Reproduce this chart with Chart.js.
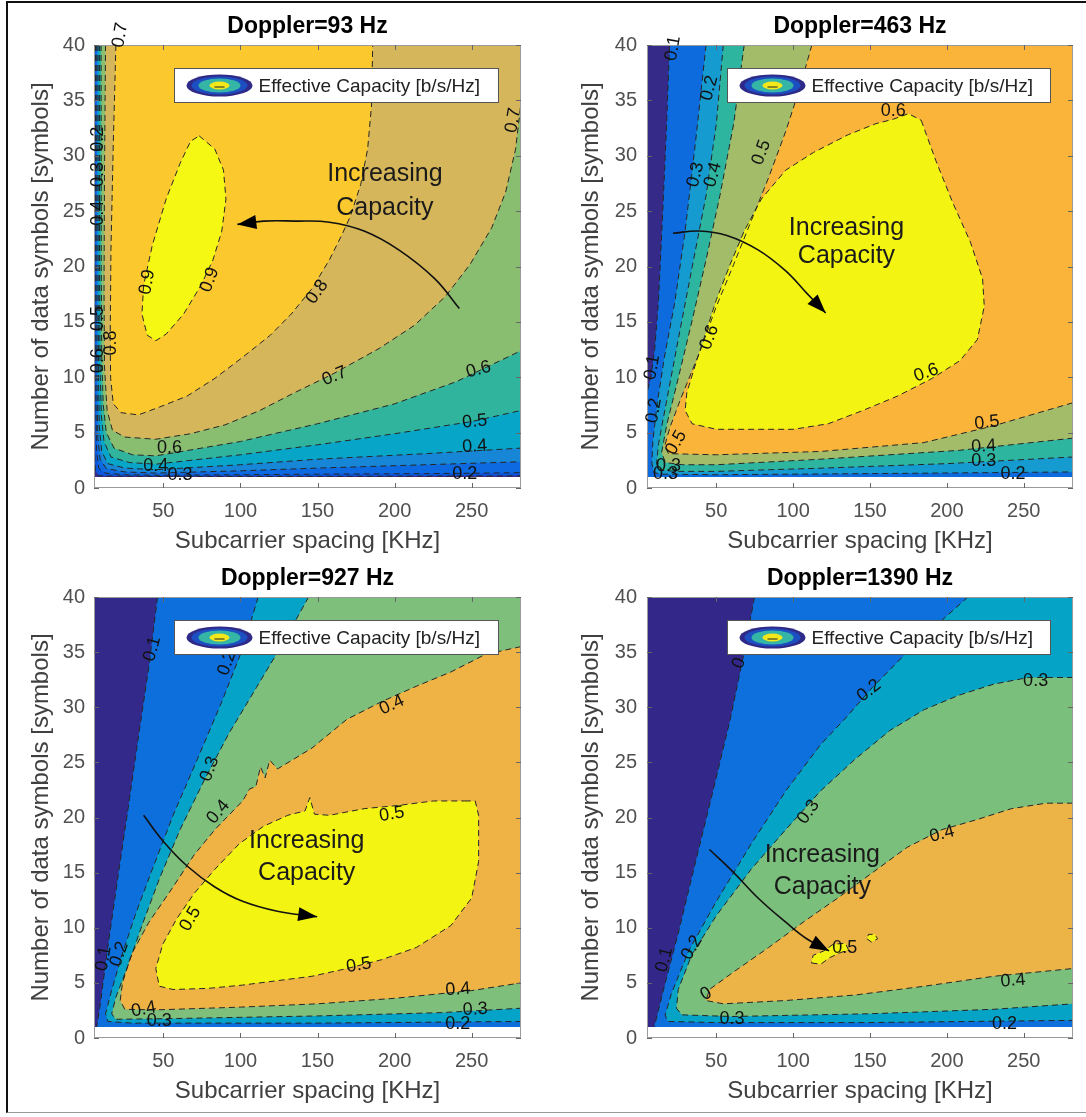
<!DOCTYPE html>
<html><head><meta charset="utf-8">
<script src="https://cdn.jsdelivr.net/npm/chart.js@4.4.1/dist/chart.umd.min.js"></script>
<style>
html,body{margin:0;padding:0;background:#fff;}
body{width:1086px;height:1117px;position:relative;overflow:hidden;}
.frame{position:absolute;left:6px;top:1px;width:1080px;height:1112px;border-left:2px solid #111;border-top:2px solid #111;border-bottom:1px solid #999;box-sizing:border-box;}
.panel{position:absolute;width:543px;height:560px;}
.panel canvas{display:block;}
</style></head><body>
<div class="frame"></div>
<div class="panel" style="left:0px;top:0px"><canvas id="c0" width="543" height="560" style="width:543px;height:560px"></canvas></div>
<div class="panel" style="left:543px;top:0px"><canvas id="c1" width="543" height="560" style="width:543px;height:560px"></canvas></div>
<div class="panel" style="left:0px;top:550px"><canvas id="c2" width="543" height="560" style="width:543px;height:560px"></canvas></div>
<div class="panel" style="left:543px;top:550px"><canvas id="c3" width="543" height="560" style="width:543px;height:560px"></canvas></div>
<script>
// ---------------- axes ----------------
const X_TICKS = [50, 100, 150, 200, 250];
const Y_TICKS = [0, 5, 10, 15, 20, 25, 30, 35, 40];
const X_MIN = 5, X_MAX = 282, Y_MIN = 0, Y_MAX = 40;
const PLOT_RECT = [[5,1],[282,1],[282,40],[5,40],[5,1]];
const CLOSE_TR = [[282,40]];
const CLOSE_BOTTOM_RIGHT = [[5,1],[282,1],[282,40]];
const CLOSE_RIGHT = [[282,1],[282,40]];
const LEGEND_BOX = [57, 37.95, 267, 34.85];
const LEGEND_TEXT = 'Effective Capacity [b/s/Hz]';
const X_TITLE = 'Subcarrier spacing [KHz]';
const Y_TITLE = 'Number of data symbols [symbols]';

// ---------------- Doppler = 93 Hz ----------------
const TL_COLORS = ['#3d2b8e','#0b56de','#0e6ae0','#1786d6','#07a5c8','#30b49d','#89bd70','#d6b65a','#fbc92e','#f5f812'];
const TL_L01 = [[5.2,40],[5.2,12],[5.3,4],[5.8,1.6],[8,1.1],[40,1.05],[150,1.05],[282,1.1]];
const TL_L02 = [[6.0,40],[6.1,20],[6.2,8],[6.6,3.5],[8,1.8],[12,1.35],[25,1.2],[45,1.15],[100,1.2],[150,1.25],[220,1.3],[282,1.38]];
const TL_L03 = [[6.8,40],[6.9,20],[7.0,9],[7.5,4.5],[9,2.6],[13,1.75],[25,1.45],[45,1.35],[100,1.55],[150,1.8],[220,2.1],[282,2.37]];
const TL_L04 = [[7.6,40],[7.7,20],[7.9,10],[8.5,5.5],[10,3.3],[14,2.2],[25,1.8],[45,1.65],[100,2.1],[150,2.6],[220,3.1],[282,3.6]];
const TL_L05 = [[8.5,40],[8.6,20],[8.9,11],[9.8,6.5],[11.5,4.2],[16,2.8],[28,2.3],[45,2.15],[100,3.0],[150,3.9],[200,4.9],[250,6.0],[282,7.0]];
const TL_L06 = [[9.6,40],[9.7,20],[10,12],[11,7.5],[13,5],[18,3.6],[30,3.0],[45,2.9],[100,4.2],[150,5.8],[200,7.6],[240,9.6],[282,12.4]];
const TL_L07 = [[12.5,40],[11.8,28],[11.5,18],[11.8,11],[13.5,7],[17,5.2],[25,4.6],[45,4.4],[67.6,4.9],[90,5.7],[112.6,7.0],[135,8.6],[160,10.3],[190,12.6],[213,14.7],[233,17.3],[249,20.2],[263,23.5],[272,26.7],[278.5,30.6],[282,34.8]];
const TL_L08 = [[19.2,40],[17.5,31],[16,21.5],[15.5,13.4],[15.8,9.9],[17.5,7.6],[22.6,6.8],[33.8,6.6],[47.3,7.3],[65.4,8.3],[83.4,9.9],[101.4,11.8],[119.4,13.8],[132.9,15.7],[146.4,18],[157.7,20.6],[165.6,22.8],[171.2,24.5],[178,27.4],[182.5,30.6],[185,34.5],[185.8,40]];
const TL_L09 = [[73.2,31.8],[83.4,30.6],[89,28.7],[90.6,26.1],[87.9,23.2],[82.2,20.6],[74.4,18.3],[63.1,15.7],[51.8,13.9],[45.1,13.3],[39.5,13.8],[36.1,15.7],[37.2,18.3],[42.8,21.9],[51.8,26.1],[60.8,29.3],[67.6,31.3],[73.2,31.8]];
const TL_LABELS = [['0.9',39.5,18.6,-80],['0.9',80,18.8,-70],['0.8',149.8,17.7,-55],['0.7',161,10.1,-22],['0.7',277,33.2,-80],['0.7',22,40.9,-80],
  ['0.6',254.5,10.7,-15],['0.5',252,6.0,-6],['0.4',252,3.75,-3],['0.2',245.5,1.25,0],['0.6',54,3.6,0],['0.3',60.8,1.2,0],['0.4',45,2.0,0],
  ['0.8',15.8,13.1,-90],['0.2',7.5,31.5,-90],['0.3',7.5,28.3,-90],['0.4',7.5,24.8,-90],['0.5',7.5,15.3,-90],['0.6',7.5,11.5,-90]];
const TL_ARROW = [[242,16.2],[226,18.9],[202.7,21.5],[180.2,23.2],[157.7,24],[135.2,24.1],[115,24.1],[98,23.8]];
const TL_NOTE = [['Increasing',193.7,28.3],['Capacity',193.7,25.3]];

// ---------------- Doppler = 463 Hz ----------------
const TR_COLORS = ['#352a87','#0e6bde','#169bd0','#2eb5a0','#a3bc69','#fbb43a','#f3f412'];
const TR_L01 = [[19.7,40],[17.5,32],[15.2,24.8],[12.5,17],[10,12.5],[7.5,10],[5,8.6]];
const TR_L02 = [[43.4,40],[36.6,31.3],[29.8,23.2],[23,16.7],[16.3,11.8],[11.5,7.5],[8.8,4.2],[8.2,2.2],[9.5,1.4],[14,1.25],[50,1.2],[150,1.3],[282,1.45]];
const TR_L03 = [[54.6,40],[50.1,32.9],[43.4,26.4],[34.3,19.9],[25.3,13.4],[17.4,7.6],[12.5,4],[11.2,2.2],[13.5,1.6],[25,1.5],[50,1.5],[120,1.8],[200,2.2],[282,2.8]];
const TR_L04 = [[68.2,40],[61.4,32.9],[52.4,26.4],[43.4,20.6],[34.3,15.1],[25.3,9.9],[18,5.8],[14.5,3.2],[17,2.3],[28,2.1],[50,2.1],[118,2.6],[208,3.4],[282,4.5]];
const TR_L05 = [[112.2,40],[104.3,36.1],[95.2,32.2],[84,28],[72.7,24.1],[61.4,20.2],[50.1,16.4],[38.8,12.1],[27.6,8.3],[20,5.5],[16.5,3.8],[19,3.1],[50,3.0],[118,3.3],[185,4.1],[230,5.6],[282,7.7]];
const TR_L06 = [[183.3,33.2],[192.7,29.6],[204,25.7],[215.3,22.2],[223.2,18.9],[224.3,16.4],[219.8,13.4],[208.5,11.5],[190.5,9.9],[167.9,8.3],[145.4,7.0],[122.8,5.8],[100.2,5.3],[77.7,5.3],[50.1,5.3],[34.3,5.8],[29.8,7.0],[30.9,8.6],[36.6,11.2],[43.4,14.1],[50.1,17],[59.1,20.2],[68.2,23.2],[79.4,26.1],[95.2,28.7],[113.3,30.3],[135.8,31.9],[153.9,32.9],[165.2,33.3],[175,33.8],[183.3,33.2]];
const TR_LABELS = [['0.1',21.9,39.7,-80],['0.2',45.6,36.1,-75],['0.3',36.6,28.3,-75],['0.4',47.9,28.3,-75],['0.5',79.4,30.3,-70],['0.6',165.2,34.0,0],
  ['0.6',45.6,13.6,-70],['0.6',186.6,10.4,-20],['0.5',226,5.9,-6],['0.4',224,3.75,-3],['0.3',224,2.45,0],['0.2',243,1.25,0],
  ['0.1',8.4,10.9,-80],['0.2',9.5,7.0,-80],['0.5',24,4.1,-60],['0.3',19,2.0,0],['0.3',17,1.3,0]];
const TR_ARROW = [[21.9,23],[38.8,23.2],[56.9,22.8],[77.2,21.5],[95.2,19.6],[108.8,17.6],[121.2,15.8]];
const TR_NOTE = [['Increasing',134.7,23.5],['Capacity',134.7,20.9]];

// ---------------- Doppler = 927 Hz ----------------
const BL_COLORS = ['#33298a','#0d6fdc','#06a3c8','#7ebf7b','#eeb245','#f4f412'];
const BL_L01 = [[46.2,40],[40.6,33.7],[33.8,27.3],[27.1,20.8],[20.3,14.4],[13.6,7.9],[9.1,3.1],[6.8,1]];
const BL_L02 = [[111.5,40],[101.4,35.3],[87.9,30.5],[72.1,25.3],[56.3,20.2],[42.8,15.3],[31.6,11.1],[22.6,7.3],[15.8,4.0],[12.5,2.2],[14,1.5],[30,1.35],[150,1.35],[282,1.5]];
const BL_L03 = [[144.2,40],[128.4,36],[110.4,31.8],[92.4,27.6],[76.6,23.4],[60.8,18.9],[47.3,14.4],[36.1,10.2],[27.1,6.6],[19.2,3.7],[16.5,2.2],[19,1.7],[50,1.75],[150,2.0],[230,2.3],[282,2.7]];
const BL_L04 = [[282,35.5],[259,34.8],[236.5,33.2],[214,31.9],[191.5,30.5],[169,28.9],[146.4,26.3],[124,24.4],[119,25.2],[116,23.6],[113,24.6],[110,22.8],[106,22.6],[101.4,21.5],[83.4,18.9],[69.9,16.6],[56.3,13.7],[40.6,10.5],[29.3,7.6],[23.5,5],[22,3.4],[25,2.6],[45,2.55],[100,2.8],[150,3.1],[200,3.6],[250,4.3],[282,5.0]];
const BL_L05 = [[245.5,21.5],[252.3,21.5],[254.5,20.2],[254.5,16],[250,12.7],[236.5,10.2],[214,8.2],[191.5,7.1],[169,6.3],[146.4,5.6],[123.9,5.2],[101.4,4.8],[78.9,4.5],[56.3,4.4],[47.3,4.7],[45.1,6.3],[49.6,8.5],[58.6,10.8],[69.9,13.1],[83.4,15.3],[99.1,17.6],[114.9,19.2],[130.7,20.2],[141.9,20.6],[145,21.8],[148,20.3],[157.7,20.2],[180.2,20.8],[202.7,21.1],[225.2,21.5],[245.5,21.5]];
const BL_LABELS = [['0.1',42.8,35.3,-75],['0.2',91.3,34,-70],['0.3',80,24.4,-70],['0.4',198.2,30.2,-25],['0.4',85.6,20.5,-50],['0.5',198.2,20.3,-10],
  ['0.5',67.6,10.8,-60],['0.5',176.8,6.6,-10],['0.4',241,4.4,-4],['0.3',252.3,2.6,-3],['0.2',241,1.3,0],['0.4',37.2,2.6,-10],['0.3',47.3,1.5,0],
  ['0.1',11.3,7.2,-80],['0.2',21.4,7.6,-70]];
const BL_ARROW = [[37.2,20.2],[49.6,17.9],[65.4,15.6],[83.4,13.7],[101.4,12.4],[123.9,11.5],[149.8,11.0]];
const BL_NOTE = [['Increasing',143,17.9],['Capacity',143,15.0]];

// ---------------- Doppler = 1390 Hz ----------------
const BR_COLORS = ['#33288a','#0e70dc','#05a4c6','#7bbf7c','#ecb447','#f3f312'];
const BR_L01 = [[74.9,40],[68.2,35],[59.1,28.9],[47.9,22.4],[36.6,16],[25.3,9.5],[16.3,4.7],[10.6,1.5],[9.5,1]];
const BR_L02 = [[213.7,40],[196.8,37.9],[174.2,35],[151.6,31.8],[134,29],[117.8,26.6],[95.2,22.4],[72.7,17.6],[50.1,12.4],[32.1,7.9],[20.8,4.0],[16.8,2.1],[18.5,1.5],[50,1.4],[150,1.4],[282,1.6]];
const BR_L03 = [[282,32.7],[253,32.7],[230.6,32.1],[208,31.1],[185.5,29.8],[163,27.9],[140.4,25.3],[117.8,22.4],[95.2,18.9],[72.7,15.3],[50.1,11.1],[34.3,7.6],[25.3,4.4],[24.2,2.7],[27.6,2.1],[60,1.95],[150,2.2],[230,2.6],[282,3.1]];
const BR_L04 = [[282,21.3],[264.4,21.3],[241.9,20.8],[219.3,19.8],[196.8,18.9],[174.2,17.3],[151.6,15],[129.1,12.7],[106.5,10.5],[84,8.2],[61.4,6.0],[45.6,4.4],[43.4,3.4],[54.6,3.1],[95.2,3.4],[140.4,3.9],[185.5,4.7],[230.6,5.6],[282,6.3]];
const BR_L05A = [[112,6.8],[118,6.7],[124,7.3],[130,7.7],[136,8.0],[134,8.6],[126,8.5],[120,7.9],[113,7.5],[112,6.8]];
const BR_L05B = [[148,9.0],[151,8.7],[155,9.0],[153,9.4],[149,9.4],[148,9.0]];
const BR_LABELS = [['0',64.8,34,-70],['0.2',149.4,31.5,-38],['0.3',110,20.5,-55],['0.3',257.7,32.4,0],['0.4',196.8,18.5,-15],['0.5',133.6,8.2,0],
  ['0.4',243,5.2,-5],['0.2',237.4,1.3,0],['0.3',60.3,1.7,0],['0.1',16.3,7.1,-75],['0.2',34.3,8.2,-60],['0',43.4,4.0,-30]];
const BR_ARROW = [[45.6,17.1],[61.4,15],[77.2,12.7],[95.2,10.5],[108.8,9.0],[123.4,7.9]];
const BR_NOTE = [['Increasing',119,16.6],['Capacity',119,13.7]];

// ---------------- panel tables ----------------
const PANELS = [
  {id:'c0', title:'Doppler=93 Hz', colors:TL_COLORS, labels:TL_LABELS, arrow:TL_ARROW, notes:TL_NOTE,
   fills:[[TL_L01,CLOSE_TR,1],[TL_L02,CLOSE_TR,2],[TL_L03,CLOSE_TR,3],[TL_L04,CLOSE_TR,4],[TL_L05,CLOSE_TR,5],[TL_L06,CLOSE_TR,6],[TL_L07,CLOSE_TR,7],[TL_L08,[],8],[TL_L09,[],9]],
   lay:{yW:94, padR:22, padT:45, yTitlePad:27, yTickPad:9}},
  {id:'c1', title:'Doppler=463 Hz', colors:TR_COLORS, labels:TR_LABELS, arrow:TR_ARROW, notes:TR_NOTE,
   fills:[[TR_L01,CLOSE_BOTTOM_RIGHT,1],[TR_L02,CLOSE_TR,2],[TR_L03,CLOSE_TR,3],[TR_L04,CLOSE_TR,4],[TR_L05,CLOSE_TR,5],[TR_L06,[],6]],
   lay:{yW:104, padR:13, padT:45, yTitlePad:34, yTickPad:10}},
  {id:'c2', title:'Doppler=927 Hz', colors:BL_COLORS, labels:BL_LABELS, arrow:BL_ARROW, notes:BL_NOTE,
   fills:[[BL_L01,CLOSE_RIGHT,1],[BL_L02,CLOSE_TR,2],[BL_L03,CLOSE_TR,3],[BL_L04,[],4],[BL_L05,[],5]],
   lay:{yW:94, padR:22, padT:47, yTitlePad:27, yTickPad:9}},
  {id:'c3', title:'Doppler=1390 Hz', colors:BR_COLORS, labels:BR_LABELS, arrow:BR_ARROW, notes:BR_NOTE,
   fills:[[BR_L01,CLOSE_RIGHT,1],[BR_L02,CLOSE_TR,2],[BR_L03,[],3],[BR_L04,[],4],[BR_L05A,[],5],[BR_L05B,[],5]],
   lay:{yW:104, padR:13, padT:47, yTitlePad:34, yTickPad:10}}
];

const FONT = '"Liberation Sans", Arial, Helvetica, sans-serif';
Chart.defaults.font.family = FONT;

const toXY = pts => pts.map(p => ({x:p[0], y:p[1]}));

function buildDatasets(P) {
  const ds = [];
  ds.push({data:toXY(PLOT_RECT), fill:'shape', backgroundColor:P.colors[0], borderColor:'rgba(0,0,0,0)', borderWidth:1, pointRadius:0, tension:0});
  P.fills.forEach(([line, close, ci]) => {
    ds.push({data:toXY(line.concat(close)), fill:'shape', backgroundColor:P.colors[ci], borderColor:'rgba(0,0,0,0)', borderWidth:1, pointRadius:0, tension:0});
  });
  P.fills.forEach(([line]) => {
    ds.push({data:toXY(line), fill:false, borderColor:'#262626', borderWidth:1, borderDash:[6,4], pointRadius:0, tension:0});
  });
  ds.push({data:toXY(P.arrow), fill:false, borderColor:'#111', borderWidth:1.6, pointRadius:0, tension:0.4});
  const N = ds.length;
  ds.forEach((d, i) => { d.order = N - i; d.pointHoverRadius = 0; d.spanGaps = true; });
  return ds;
}

function makeDeco(P) {
  return {
    id: 'deco',
    afterDatasetsDraw(chart) {
      const {ctx, chartArea:a, scales:{x, y}} = chart;
      const X = v => x.getPixelForValue(v), Y = v => y.getPixelForValue(v);
      ctx.save();
      // frame of axes
      ctx.strokeStyle = '#9a9a9a'; ctx.lineWidth = 1; ctx.setLineDash([]);
      ctx.strokeRect(Math.round(a.left) + 0.5, Math.round(a.top) + 0.5, Math.round(a.width) - 1, Math.round(a.height) - 1);
      // inner ticks
      ctx.strokeStyle = '#666';
      ctx.beginPath();
      X_TICKS.forEach(v => { const p = Math.round(X(v)) + 0.5; ctx.moveTo(p, a.bottom); ctx.lineTo(p, a.bottom - 5); ctx.moveTo(p, a.top); ctx.lineTo(p, a.top + 5); });
      Y_TICKS.forEach(v => { const p = Math.round(Y(v)) + 0.5; ctx.moveTo(a.left, p); ctx.lineTo(a.left + 5, p); ctx.moveTo(a.right, p); ctx.lineTo(a.right - 5, p); });
      ctx.stroke();
      // contour labels
      ctx.fillStyle = '#111'; ctx.font = '18px ' + FONT; ctx.textAlign = 'center'; ctx.textBaseline = 'middle';
      P.labels.forEach(([t, vx, vy, r]) => { ctx.save(); ctx.translate(X(vx), Y(vy)); ctx.rotate(r * Math.PI / 180); ctx.fillText(t, 0, 0); ctx.restore(); });
      // annotation text
      ctx.font = '25px ' + FONT; ctx.fillStyle = '#1a1a1a';
      P.notes.forEach(([t, vx, vy]) => ctx.fillText(t, X(vx), Y(vy)));
      // arrow head
      const n = P.arrow.length;
      const x1 = X(P.arrow[n-2][0]), y1 = Y(P.arrow[n-2][1]), x2 = X(P.arrow[n-1][0]), y2 = Y(P.arrow[n-1][1]);
      const ang = Math.atan2(y2 - y1, x2 - x1), hl = 19, hw = 7;
      ctx.fillStyle = '#000';
      ctx.beginPath();
      ctx.moveTo(x2, y2);
      ctx.lineTo(x2 - hl * Math.cos(ang) + hw * Math.sin(ang), y2 - hl * Math.sin(ang) - hw * Math.cos(ang));
      ctx.lineTo(x2 - hl * Math.cos(ang) - hw * Math.sin(ang), y2 - hl * Math.sin(ang) + hw * Math.cos(ang));
      ctx.closePath(); ctx.fill();
      // legend
      const lx0 = Math.round(X(LEGEND_BOX[0])) + 0.5, lx1 = Math.round(X(LEGEND_BOX[2])) + 0.5;
      const ly0 = Math.round(Y(LEGEND_BOX[1])) + 0.5, ly1 = Math.round(Y(LEGEND_BOX[3])) + 0.5;
      ctx.fillStyle = '#fff'; ctx.fillRect(lx0, ly0, lx1 - lx0, ly1 - ly0);
      ctx.strokeStyle = '#555'; ctx.lineWidth = 1; ctx.strokeRect(lx0, ly0, lx1 - lx0, ly1 - ly0);
      const cx = lx0 + 45, cy = (ly0 + ly1) / 2;
      [[33, 11, '#2f2a87'], [28, 9, '#1b4fc2'], [21, 7, '#35b5a6'], [10, 4, '#f2e81a']].forEach(([rx, ry, c]) => {
        ctx.fillStyle = c; ctx.beginPath(); ctx.ellipse(cx, cy, rx, ry, 0, 0, Math.PI * 2); ctx.fill();
      });
      ctx.strokeStyle = '#222'; ctx.beginPath(); ctx.moveTo(cx - 5, cy + 1.5); ctx.lineTo(cx + 5, cy + 1.5); ctx.stroke();
      ctx.fillStyle = '#222'; ctx.font = '19px ' + FONT; ctx.textAlign = 'left';
      ctx.fillText(LEGEND_TEXT, lx0 + 84, cy + 1);
      // title
      ctx.fillStyle = '#000'; ctx.font = 'bold 23px ' + FONT; ctx.textAlign = 'center';
      ctx.fillText(P.title, (a.left + a.right) / 2, a.top - 18);
      ctx.restore();
    }
  };
}

PANELS.forEach(P => {
  const L = P.lay;
  new Chart(document.getElementById(P.id), {
    type: 'line',
    data: {datasets: buildDatasets(P)},
    options: {
      responsive: false, animation: false, events: [],
      layout: {padding: {left: 0, right: L.padR, top: L.padT, bottom: 0}},
      plugins: {legend: {display: false}, tooltip: {enabled: false}, title: {display: false}},
      scales: {
        x: {type: 'linear', min: X_MIN, max: X_MAX,
            afterBuildTicks: s => { s.ticks = X_TICKS.map(v => ({value: v})); },
            afterFit: s => { s.height = 72; },
            grid: {display: false, drawTicks: false}, border: {display: false},
            ticks: {font: {size: 20}, color: '#505050', padding: 11, maxRotation: 0, autoSkip: false},
            title: {display: true, text: X_TITLE, font: {size: 24, lineHeight: 1.2}, color: '#404040', padding: {top: 0, bottom: 4}}},
        y: {type: 'linear', min: Y_MIN, max: Y_MAX,
            afterBuildTicks: s => { s.ticks = Y_TICKS.map(v => ({value: v})); },
            afterFit: s => { s.width = L.yW; },
            grid: {display: false, drawTicks: false}, border: {display: false},
            ticks: {font: {size: 20}, color: '#505050', padding: L.yTickPad, autoSkip: false},
            title: {display: true, text: Y_TITLE, font: {size: 24, lineHeight: 1.2}, color: '#404040', padding: {top: L.yTitlePad, bottom: 0}}}
      }
    },
    plugins: [makeDeco(P)]
  });
});
</script>
</body></html>
